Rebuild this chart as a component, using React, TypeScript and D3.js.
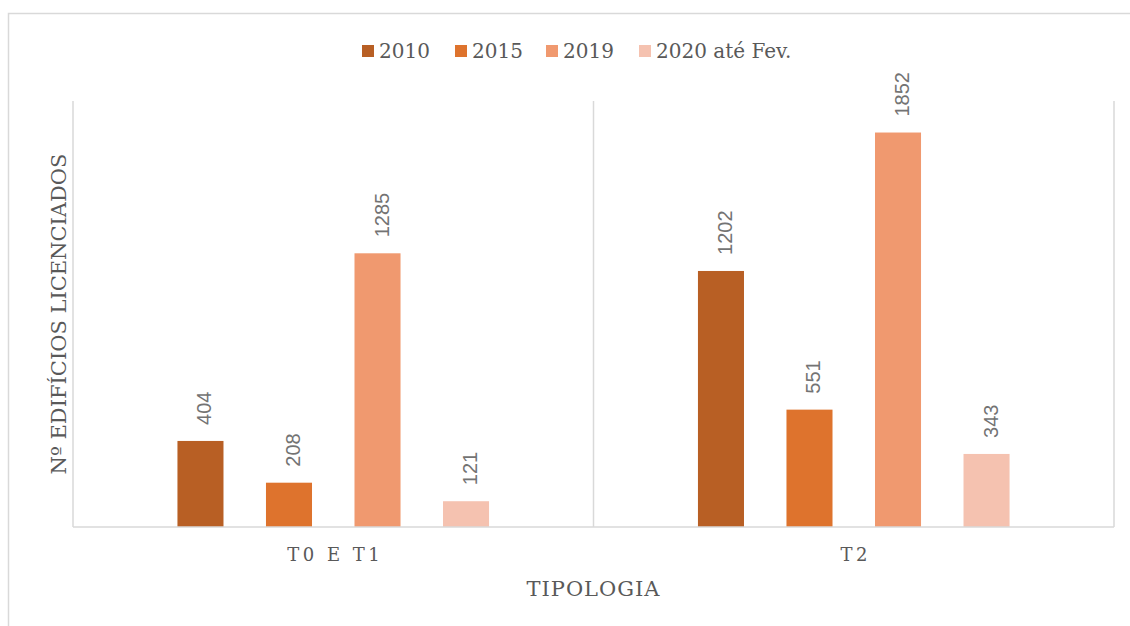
import React, { useEffect, useRef } from 'react';
import * as d3 from 'd3';

const categories = ['T0 E T1', 'T2'];
const seriesNames = ['2010', '2015', '2019', '2020 até Fev.'];
const seriesColors = ['#b85f24', '#de732d', '#f0996f', '#f5c2b0'];
const values2010 = [404, 1202];
const values2015 = [208, 551];
const values2019 = [1285, 1852];
const values2020 = [121, 343];

const App = () => {
  const ref = useRef<SVGSVGElement>(null);

  useEffect(() => {
    const svg = d3.select(ref.current);
    svg.selectAll('*').remove();

    const textColor = '#595959';
    const serif = '"DejaVu Serif", Georgia, serif';
    const sans = '"Liberation Sans", Arial, sans-serif';
    const plot = { left: 73, right: 1114, top: 101, bottom: 527 };

    // chart frame (right and bottom edges fall outside the picture)
    svg.append('rect')
      .attr('x', 8.5).attr('y', 13.5)
      .attr('width', 1140).attr('height', 640)
      .attr('fill', '#fff').attr('stroke', '#d9d9d9').attr('stroke-width', 1.5);

    const x0 = d3.scaleBand().domain(categories).range([plot.left, plot.right]);
    const x1 = d3.scaleBand().domain(seriesNames)
      .range([0, x0.bandwidth()]).paddingInner(0.48).paddingOuter(1.18);
    const y = d3.scaleLinear().domain([0, 2000]).range([plot.bottom, plot.top]);

    const all = [values2010, values2015, values2019, values2020];

    // category separators
    const seps = [plot.left, ...categories.map(c => (x0(c) as number) + x0.bandwidth())];
    svg.append('g').selectAll('line').data(seps).join('line')
      .attr('x1', d => d).attr('x2', d => d)
      .attr('y1', plot.top).attr('y2', plot.bottom)
      .attr('stroke', '#d9d9d9').attr('stroke-width', 1.5);

    // bars + rotated value labels
    seriesNames.forEach((s, si) => {
      const g = svg.append('g');
      g.selectAll('rect').data(categories).join('rect')
        .attr('x', c => (x0(c) as number) + (x1(s) as number))
        .attr('y', (c, i) => y(all[si][i]))
        .attr('width', x1.bandwidth())
        .attr('height', (c, i) => plot.bottom - y(all[si][i]))
        .attr('fill', seriesColors[si]);

      g.selectAll('text').data(categories).join('text')
        .attr('transform', (c, i) => {
          const cx = (x0(c) as number) + (x1(s) as number) + x1.bandwidth() / 2 + 11;
          return `translate(${cx},${y(all[si][i]) - 16}) rotate(-90)`;
        })
        .attr('font-family', sans).attr('font-size', 20)
        .attr('fill', '#737373')
        .text((c, i) => all[si][i]);
    });

    // x axis line
    svg.append('line')
      .attr('x1', plot.left).attr('x2', plot.right)
      .attr('y1', plot.bottom).attr('y2', plot.bottom)
      .attr('stroke', '#d9d9d9').attr('stroke-width', 1.5);

    // category labels
    svg.append('g').selectAll('text').data(categories).join('text')
      .attr('x', c => (x0(c) as number) + x0.bandwidth() / 2 + 2)
      .attr('y', 561)
      .attr('text-anchor', 'middle')
      .attr('font-family', serif).attr('font-size', 18)
      .attr('letter-spacing', 3.5)
      .attr('fill', textColor)
      .text(c => c);

    // axis titles
    svg.append('text')
      .attr('x', (plot.left + plot.right) / 2).attr('y', 596)
      .attr('text-anchor', 'middle')
      .attr('font-family', serif).attr('font-size', 21)
      .attr('letter-spacing', 1)
      .attr('fill', textColor)
      .text('TIPOLOGIA');

    svg.append('text')
      .attr('transform', `translate(66,${(plot.top + plot.bottom) / 2}) rotate(-90)`)
      .attr('text-anchor', 'middle')
      .attr('font-family', serif).attr('font-size', 21)
      .attr('fill', textColor)
      .text('Nº EDIFÍCIOS LICENCIADOS');

    // legend
    const legendX = [362, 455, 546, 639];
    const lg = svg.append('g').selectAll('g').data(seriesNames).join('g')
      .attr('transform', (d, i) => `translate(${legendX[i]},45)`);
    lg.append('rect')
      .attr('width', 12).attr('height', 12)
      .attr('fill', (d, i) => seriesColors[i]);
    lg.append('text')
      .attr('x', 17).attr('y', 13)
      .attr('font-family', serif).attr('font-size', 20)
      .attr('fill', textColor)
      .text(d => d);
  }, []);

  return (
    <svg
      ref={ref}
      width={1130}
      height={626}
      style={{ position: 'absolute', left: 0, top: 0 }}
    />
  );
};

export default App;
